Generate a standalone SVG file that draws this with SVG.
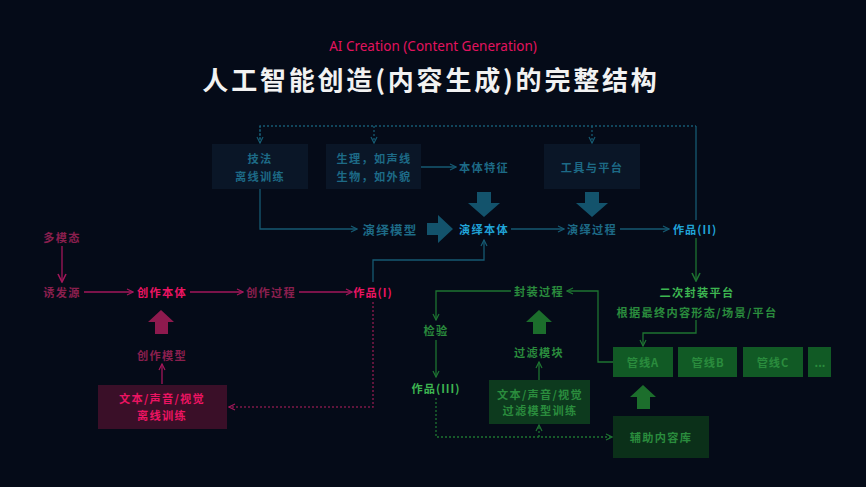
<svg xmlns="http://www.w3.org/2000/svg" width="866" height="487" viewBox="0 0 866 487">
<defs>
<style>
text{font-family:"Noto Sans CJK SC","Noto Sans",sans-serif;text-anchor:middle;dominant-baseline:central;letter-spacing:1.3px}
.bt{fill:#1d6a86;font-size:11.2px;font-weight:bold}
.bb{fill:#20a4d8;font-size:11.2px;font-weight:bold}
.pt{fill:#8a1f4e;font-size:11.2px;font-weight:bold}
.pb{fill:#ec1462;font-size:11.2px;font-weight:bold}
.gt{fill:#2a8c3d;font-size:11.2px;font-weight:bold}
.gb{fill:#3db651;font-size:11.2px;font-weight:bold}
.bbox{fill:#0a1627}
.bl{stroke:#165a72;stroke-width:1.3;fill:none}
.bd{stroke:#165a72;stroke-width:1.3;fill:none;stroke-dasharray:2 2}
.pl{stroke:#a3175a;stroke-width:1.3;fill:none}
.pd{stroke:#7e1a48;stroke-width:1.5;fill:none;stroke-dasharray:2 2}
.gl{stroke:#1e7431;stroke-width:1.3;fill:none}
.gd{stroke:#1e7431;stroke-width:1.3;fill:none;stroke-dasharray:2 2}
</style>
<marker id="ab" viewBox="0 0 8 8" refX="7" refY="4" markerWidth="8" markerHeight="8" markerUnits="userSpaceOnUse" orient="auto"><path d="M1,1 L7,4 L1,7" fill="none" stroke="#165a72" stroke-width="1.2"/></marker>
<marker id="ap" viewBox="0 0 8 8" refX="7" refY="4" markerWidth="8" markerHeight="8" markerUnits="userSpaceOnUse" orient="auto"><path d="M1,1 L7,4 L1,7" fill="none" stroke="#a3175a" stroke-width="1.2"/></marker>
<marker id="apb" viewBox="0 0 10 10" refX="9" refY="5" markerWidth="10" markerHeight="10" markerUnits="userSpaceOnUse" orient="auto"><path d="M1,1 L9,5 L1,9" fill="none" stroke="#a3175a" stroke-width="1.6"/></marker>
<marker id="ag" viewBox="0 0 8 8" refX="7" refY="4" markerWidth="8" markerHeight="8" markerUnits="userSpaceOnUse" orient="auto"><path d="M1,1 L7,4 L1,7" fill="none" stroke="#1e7431" stroke-width="1.2"/></marker>
<marker id="agb" viewBox="0 0 10 10" refX="9" refY="5" markerWidth="10" markerHeight="10" markerUnits="userSpaceOnUse" orient="auto"><path d="M1,1 L9,5 L1,9" fill="none" stroke="#1e7431" stroke-width="1.6"/></marker>
</defs>
<rect width="866" height="487" fill="#050b18"/>

<g id="title">
<text x="433" y="46" style="fill:#e2135e;font-size:13.5px;letter-spacing:0;font-family:'Noto Sans','Open Sans',sans-serif">AI Creation (Content Generation)</text>
<text x="431" y="78" style="fill:#f2f2f2;font-size:26px;font-weight:bold;letter-spacing:2.8px">人工智能创造(内容生成)的完整结构</text>
</g>

<g id="connectors">
<!-- blue -->
<polyline class="bd" points="260,143 260,126 696,126"/>
<line class="bd" x1="374" y1="126" x2="374" y2="143" marker-end="url(#ab)"/>
<line class="bd" x1="260" y1="126" x2="260" y2="143" marker-end="url(#ab)"/>
<line class="bd" x1="592" y1="126" x2="592" y2="143" marker-end="url(#ab)"/>
<line class="bl" x1="696" y1="126" x2="696" y2="220"/>
<line class="bl" x1="421" y1="167" x2="456" y2="167" marker-end="url(#ab)"/>
<polyline class="bl" points="260,188 260,229 357,229" marker-end="url(#ab)"/>
<polyline class="bl" points="373,282 373,260 484,260 484,240" marker-end="url(#ab)"/>
<line class="bl" x1="511" y1="229" x2="564" y2="229" marker-end="url(#ab)"/>
<line class="bl" x1="620" y1="229" x2="669" y2="229" marker-end="url(#ab)"/>
<polygon points="477,192 491,192 491,203 500,203 484,217 468,203 477,203" fill="#13536c"/>
<polygon points="585,192 599,192 599,203 608,203 592,217 576,203 585,203" fill="#13536c"/>
<polygon points="427,223 438,223 438,215 453,229 438,243 438,235 427,235" fill="#13536c"/>
<!-- pink -->
<line class="pl" x1="62" y1="246" x2="62" y2="282" stroke-width="2" marker-end="url(#apb)"/>
<line class="pl" x1="84" y1="292" x2="133" y2="292" marker-end="url(#ap)"/>
<line class="pl" x1="190" y1="292" x2="243" y2="292" marker-end="url(#ap)"/>
<line class="pl" x1="299" y1="292" x2="352" y2="292" marker-end="url(#ap)"/>
<line class="pl" x1="162" y1="384" x2="162" y2="364" marker-end="url(#ap)"/>
<polygon points="155,334 168,334 168,322 174,322 161,310 148,322 155,322" fill="#8e1a4e"/>
<polyline class="pd" points="373,302 373,407 229,407" marker-end="url(#ap)"/>
<!-- green -->
<line class="gl" x1="696" y1="238" x2="696" y2="281" stroke-width="2" marker-end="url(#agb)"/>
<polyline class="gl" points="696,320 696,333 643,333 643,346" marker-end="url(#ag)"/>
<polyline class="gl" points="613,362 598,362 598,291 567,291" marker-end="url(#ag)"/>
<polyline class="gl" points="511,291 436,291 436,320" marker-end="url(#ag)"/>
<line class="gl" x1="436" y1="340" x2="436" y2="377" marker-end="url(#ag)"/>
<line class="gl" x1="539" y1="380" x2="539" y2="362" marker-end="url(#ag)"/>
<polyline class="gd" points="436,398 436,437 612,437" marker-end="url(#ag)"/>
<line class="gd" x1="539" y1="437" x2="539" y2="425" marker-end="url(#ag)"/>
<polygon points="533,334 546,334 546,322 552,322 539,310 526,322 533,322" fill="#1c6e2c"/>
<polygon points="637,409 650,409 650,397 656,397 643,385 630,397 637,397" fill="#1c6e2c"/>
</g>

<g id="n-jifa"><rect class="bbox" x="212" y="144" width="96" height="45"/><text class="bt" x="260" y="158">技法</text><text class="bt" x="260" y="176">离线训练</text></g>
<g id="n-shengli"><rect class="bbox" x="326" y="144" width="95" height="45"/><text class="bt" x="374" y="158">生理，如声线</text><text class="bt" x="374" y="176">生物，如外貌</text></g>
<g id="n-gongju"><rect class="bbox" x="544" y="144" width="96" height="45"/><text class="bt" x="592" y="167">工具与平台</text></g>
<g id="n-benti-tz"><text class="bt" x="484" y="167">本体特征</text></g>
<g id="n-yanyi-mx"><text class="bt" x="390" y="229" style="font-size:12.5px">演绎模型</text></g>
<g id="n-yanyi-bt"><text class="bb" x="484" y="229">演绎本体</text></g>
<g id="n-yanyi-gc"><text class="bt" x="592" y="229">演绎过程</text></g>
<g id="n-zp2"><text class="bb" x="695" y="229" style="letter-spacing:1px">作品(II)</text></g>

<g id="n-duomotai"><text class="pt" x="62" y="237">多模态</text></g>
<g id="n-youfa"><text class="pt" x="62" y="292">诱发源</text></g>
<g id="n-chuangzuo-bt"><text class="pb" x="162" y="292">创作本体</text></g>
<g id="n-chuangzuo-gc"><text class="pt" x="271" y="292">创作过程</text></g>
<g id="n-zp1"><text class="pb" x="373" y="292" style="letter-spacing:1px">作品(I)</text></g>
<g id="n-chuangzuo-mx"><text class="pt" x="162" y="355">创作模型</text></g>
<g id="n-lixian"><rect x="98" y="385" width="129" height="44" fill="#3a0f28"/><text class="pb" x="162" y="398">文本/声音/视觉</text><text class="pb" x="162" y="415">离线训练</text></g>

<g id="n-erci"><text class="gb" x="697" y="292">二次封装平台</text></g>
<g id="n-genju"><text class="gt" x="697" y="312">根据最终内容形态/场景/平台</text></g>
<g id="n-guanA"><rect x="613" y="347" width="60" height="30" fill="#115a25"/><text class="gt" x="643" y="362" style="letter-spacing:1px">管线A</text></g>
<g id="n-guanB"><rect x="678" y="347" width="59" height="30" fill="#115a25"/><text class="gt" x="708" y="362" style="letter-spacing:1px">管线B</text></g>
<g id="n-guanC"><rect x="743" y="347" width="60" height="30" fill="#115a25"/><text class="gt" x="773" y="362" style="letter-spacing:1px">管线C</text></g>
<g id="n-more"><rect x="808" y="347" width="23" height="30" fill="#115a25"/><text class="gt" x="820" y="362" style="letter-spacing:0">...</text></g>
<g id="n-fengzhuang"><text class="gt" x="539" y="291">封装过程</text></g>
<g id="n-jianyan"><text class="gt" x="436" y="330">检验</text></g>
<g id="n-zp3"><text class="gb" x="436" y="388" style="letter-spacing:1px">作品(III)</text></g>
<g id="n-guolv-mk"><text class="gt" x="539" y="352">过滤模块</text></g>
<g id="n-guolv-box"><rect x="489" y="380" width="101" height="44" fill="#0d3a1e"/><text class="gt" x="540" y="394">文本/声音/视觉</text><text class="gt" x="540" y="410">过滤模型训练</text></g>
<g id="n-fuzhu"><rect x="613" y="416" width="96" height="42" fill="#0b3019"/><text class="gt" x="661" y="437">辅助内容库</text></g>
</svg>
